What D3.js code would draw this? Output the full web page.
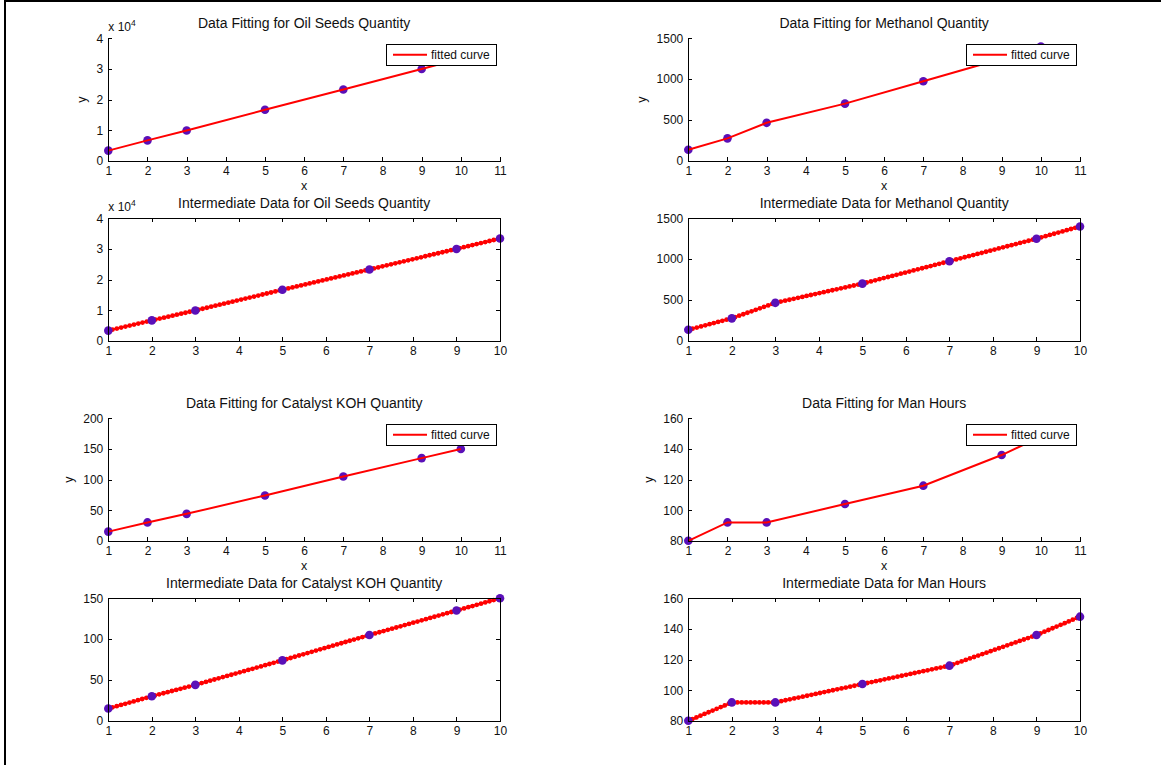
<!DOCTYPE html>
<html>
<head>
<meta charset="utf-8">
<script src="https://cdn.jsdelivr.net/npm/d3@7"></script>
<style>
  body { margin: 0; background: #fff; }
  svg text { font-family: "Liberation Sans", Arial, Helvetica, sans-serif; fill: #111; }
</style>
</head>
<body>
<div id="chart"></div>
<script>
// measured x positions of the data
const xData = [1, 2, 3, 5, 7, 9, 10];

// values
const oilSeeds = [3330, 6660, 9900, 16650, 23300, 30000, 33400];
const methanol = [135, 275, 465, 700, 975, 1250, 1400];
const catalystKOH = [15, 30, 44, 74, 105, 135, 150];
const manHours = [80, 92, 92, 104, 116, 136, 148];

// tick labels
const fitXTicks = [1, 2, 3, 4, 5, 6, 7, 8, 9, 10, 11];
const midXTicks = [1, 2, 3, 4, 5, 6, 7, 8, 9, 10];
const oilTicks = [0, 10000, 20000, 30000, 40000];
const methanolTicks = [0, 500, 1000, 1500];
const kohFitTicks = [0, 50, 100, 150, 200];
const kohMidTicks = [0, 50, 100, 150];
const hoursTicks = [80, 100, 120, 140, 160];

const panels = [
  { title: 'Data Fitting for Oil Seeds Quantity', fit: true, col: 0, row: 0, y: oilSeeds, yTicks: oilTicks, exp: 4 },
  { title: 'Intermediate Data for Oil Seeds Quantity', fit: false, col: 0, row: 1, y: oilSeeds, yTicks: oilTicks, exp: 4 },
  { title: 'Data Fitting for Methanol Quantity', fit: true, col: 1, row: 0, y: methanol, yTicks: methanolTicks },
  { title: 'Intermediate Data for Methanol Quantity', fit: false, col: 1, row: 1, y: methanol, yTicks: methanolTicks },
  { title: 'Data Fitting for Catalyst KOH Quantity', fit: true, col: 0, row: 2, y: catalystKOH, yTicks: kohFitTicks },
  { title: 'Intermediate Data for Catalyst KOH Quantity', fit: false, col: 0, row: 3, y: catalystKOH, yTicks: kohMidTicks },
  { title: 'Data Fitting for Man Hours', fit: true, col: 1, row: 2, y: manHours, yTicks: hoursTicks },
  { title: 'Intermediate Data for Man Hours', fit: false, col: 1, row: 3, y: manHours, yTicks: hoursTicks }
];

const W = 1161, H = 765;
const colLeft = [108.3, 688.3];
const rowTop = [38.3, 218.3, 418.3, 598.3];
const plotW = 391.7, plotH = 122.5;
const red = '#ff0000', purple = '#5a10b8';

const svg = d3.select('#chart').append('svg')
  .attr('width', W)
  .attr('height', H);

svg.append('rect').attr('width', W).attr('height', H).attr('fill', '#fff');

// frame edges from the original screenshot
svg.append('line').attr('x1', 4).attr('x2', W).attr('y1', 1).attr('y2', 1)
  .attr('stroke', '#000').attr('stroke-width', 2);
svg.append('line').attr('x1', 5).attr('x2', 5).attr('y1', 0).attr('y2', H)
  .attr('stroke', '#000').attr('stroke-width', 2);

panels.forEach(p => drawPanel(p));

function drawPanel(p) {
  const left = colLeft[p.col];
  const top = rowTop[p.row];
  const xTicks = p.fit ? fitXTicks : midXTicks;
  const x = d3.scaleLinear()
    .domain(d3.extent(xTicks))
    .range([0, plotW]);
  const y = d3.scaleLinear()
    .domain(d3.extent(p.yTicks))
    .range([plotH, 0]);
  const fmt = p.exp ? (d => d / Math.pow(10, p.exp)) : (d => d);

  const g = svg.append('g')
    .attr('transform', `translate(${left},${top})`);

  const line = d3.line()
    .x((d, i) => x(xData[i]))
    .y(d => y(d));

  if (p.fit) {
    g.selectAll('circle.pt')
      .data(p.y)
      .join('circle')
      .attr('class', 'pt')
      .attr('cx', (d, i) => x(xData[i]))
      .attr('cy', d => y(d))
      .attr('r', 4.3)
      .attr('fill', purple);
    g.append('path')
      .datum(p.y)
      .attr('fill', 'none')
      .attr('stroke', red)
      .attr('stroke-width', 2)
      .attr('d', line);
  } else {
    g.append('path')
      .datum(p.y)
      .attr('fill', 'none')
      .attr('stroke', red)
      .attr('stroke-width', 1.5)
      .attr('d', line);
    g.append('path')
      .datum(p.y)
      .attr('fill', 'none')
      .attr('stroke', red)
      .attr('stroke-width', 4.8)
      .attr('stroke-linecap', 'round')
      .attr('stroke-dasharray', '0 4.4')
      .attr('d', line);
    g.selectAll('circle.pt')
      .data(p.y)
      .join('circle')
      .attr('class', 'pt')
      .attr('cx', (d, i) => x(xData[i]))
      .attr('cy', d => y(d))
      .attr('r', 4.3)
      .attr('fill', purple);
  }

  // axes
  const xAxis = g.append('g')
    .attr('transform', `translate(0,${plotH})`)
    .call(d3.axisBottom(x).tickValues(xTicks).tickSizeInner(-4).tickSizeOuter(0).tickPadding(5.5));
  const yAxis = g.append('g')
    .call(d3.axisLeft(y).tickValues(p.yTicks).tickFormat(fmt).tickSizeInner(-4).tickSizeOuter(0).tickPadding(5));
  const axes = [xAxis, yAxis];

  if (!p.fit) {
    axes.push(g.append('g')
      .call(d3.axisTop(x).tickValues(xTicks).tickFormat('').tickSizeInner(-4).tickSizeOuter(0)));
    axes.push(g.append('g')
      .attr('transform', `translate(${plotW},0)`)
      .call(d3.axisRight(y).tickValues(p.yTicks).tickFormat('').tickSizeInner(-4).tickSizeOuter(0)));
  }
  axes.forEach(a => {
    a.selectAll('path, line').attr('stroke', '#000').attr('shape-rendering', 'crispEdges');
    a.selectAll('text').attr('font-size', 12).attr('fill', '#111')
      .attr('font-family', '"Liberation Sans", Arial, sans-serif');
  });

  g.append('text')
    .attr('x', plotW / 2)
    .attr('y', -10)
    .attr('text-anchor', 'middle')
    .attr('font-size', 14)
    .text(p.title);

  if (p.exp) {
    const e = g.append('text')
      .attr('x', 0)
      .attr('y', -7)
      .attr('font-size', 12)
      .text('x 10');
    e.append('tspan')
      .attr('dy', -5)
      .attr('font-size', 8.5)
      .text(p.exp);
  }

  if (p.fit) {
    g.append('text')
      .attr('x', plotW / 2)
      .attr('y', plotH + 29)
      .attr('text-anchor', 'middle')
      .attr('font-size', 12.5)
      .text('x');

    let tickW = 0;
    yAxis.selectAll('text').each(function () {
      tickW = Math.max(tickW, this.getBBox().width);
    });
    g.append('text')
      .attr('transform', `translate(${-tickW - 15},${plotH / 2}) rotate(-90)`)
      .attr('text-anchor', 'middle')
      .attr('font-size', 12.5)
      .text('y');

    // legend
    const lg = g.append('g')
      .attr('transform', `translate(${plotW - 114},6)`);
    lg.append('rect')
      .attr('width', 110)
      .attr('height', 21)
      .attr('fill', '#fff')
      .attr('stroke', '#000')
      .attr('stroke-width', 1)
      .attr('shape-rendering', 'crispEdges');
    lg.append('line')
      .attr('x1', 7).attr('x2', 41)
      .attr('y1', 10.5).attr('y2', 10.5)
      .attr('stroke', red)
      .attr('stroke-width', 2);
    lg.append('text')
      .attr('x', 45)
      .attr('y', 15)
      .attr('font-size', 12)
      .text('fitted curve');
  }
}
</script>
</body>
</html>
